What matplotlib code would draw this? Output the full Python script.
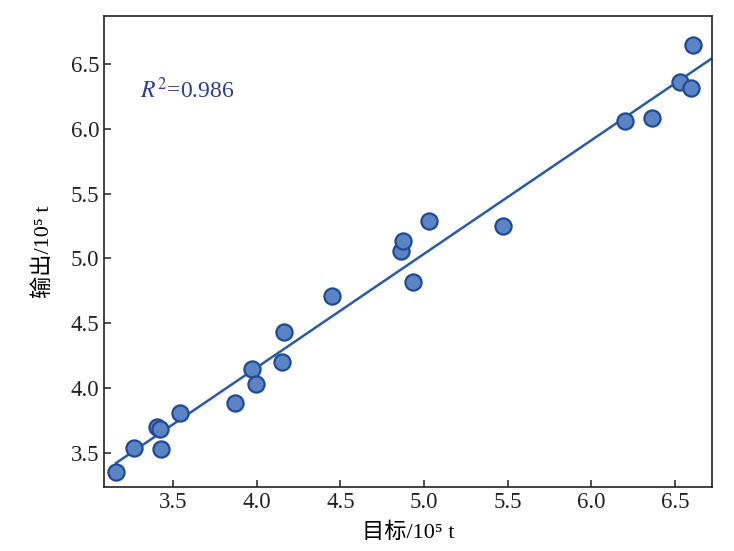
import numpy as np
import matplotlib
matplotlib.use('Agg')
import matplotlib.pyplot as plt

plt.rcParams['font.family'] = ['Liberation Serif', 'Noto Sans CJK SC']
plt.rcParams['mathtext.fontset'] = 'stix'

# target vs output (10^5 t)
target = [3.158, 3.266, 3.404, 3.422, 3.428, 3.542, 3.872, 3.972, 3.993, 4.153, 4.165,
          4.447, 4.865, 4.877, 4.931, 5.029, 5.471, 6.200, 6.364, 6.532, 6.596, 6.610]
output = [3.351, 3.536, 3.701, 3.680, 3.526, 3.804, 3.887, 4.145, 4.031, 4.201, 4.433,
          4.711, 5.053, 5.131, 4.814, 5.285, 5.252, 6.063, 6.084, 6.359, 6.316, 6.645]
r2_text = r'$R^2$=0.986'

x = np.array(target)
y = np.array(output)
k, b = np.polyfit(x, y, 1)

fig = plt.figure(figsize=(7.34, 5.51), dpi=100)
ax = fig.add_axes([0.1417, 0.1162, 0.8283, 0.8548])

xlim = (3.086, 6.722)
ax.set_xlim(xlim)
ax.set_ylim(3.235, 6.871)

xx = np.array([x.min(), xlim[1]])
ax.plot(xx, k * xx + b, color='#2a5aa8', lw=1.8, zorder=2)
ax.scatter(x, y, s=135, facecolor='#5b84c4', edgecolor='#1f4a98', linewidth=1.6, zorder=3)

ax.text(3.30, 6.24, r2_text, color='#2b3f94', fontsize=17)

ticks = [3.5, 4.0, 4.5, 5.0, 5.5, 6.0, 6.5]
ax.set_xticks(ticks)
ax.set_yticks(ticks)
ax.set_xticklabels([f'{t:.1f}' for t in ticks])
ax.set_yticklabels([f'{t:.1f}' for t in ticks])
ax.tick_params(direction='in', length=5, width=1.1, labelsize=16.5, colors='#222222')
for s in ax.spines.values():
    s.set_linewidth(1.2)
    s.set_color('#222222')

ax.set_xlabel('目标/10⁵ t', fontsize=16, labelpad=7)
ax.set_ylabel('输出/10⁵ t', fontsize=16, labelpad=12)

fig.savefig('out.png', dpi=100)
